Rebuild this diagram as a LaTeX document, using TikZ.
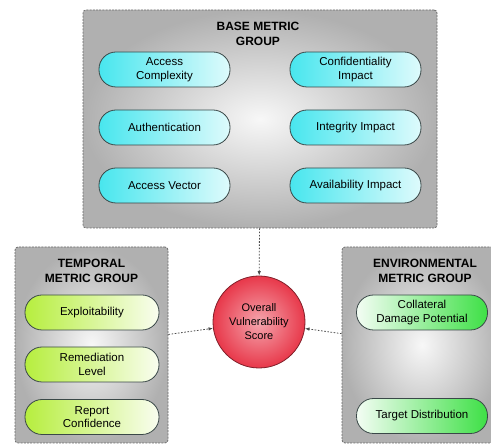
\documentclass[tikz,border=0pt]{standalone}
\usepackage{fontspec}
\setmainfont{Liberation Sans}
\usepackage{xcolor}
\usetikzlibrary{arrows.meta,positioning}

\definecolor{boxedge}{HTML}{6A6A6A}
\definecolor{pilledge}{HTML}{3A4848}
\definecolor{cyanpill}{HTML}{48E6EE}
\definecolor{limepill}{HTML}{B6EE3E}
\definecolor{greenpill}{HTML}{3EE046}
\definecolor{scorered}{HTML}{E8384A}

\begin{document}
\begin{tikzpicture}[x=1pt,y=-1pt,
      group/.style={draw=boxedge,line width=0.8pt,dash pattern=on 2pt off 1.2pt,rounded corners=3pt,
            inner color=white!94!gray,outer color=gray!62},
      title/.style={align=center,font=\bfseries\fontsize{12}{14.5}\selectfont},
      pill/.style={draw=pilledge,line width=0.8pt,rounded corners=17pt,align=center,
            minimum width=131pt,minimum height=35pt,inner sep=1pt,font=\fontsize{11.5}{13.5}\selectfont},
      basepill/.style={pill,left color=cyanpill,right color=cyanpill!18!white},
      temppill/.style={pill,left color=limepill,right color=limepill!8!white,minimum width=134pt},
      envpill/.style={pill,left color=greenpill!6!white,right color=greenpill},
      link/.style={-{Latex[length=4.5pt,width=3.5pt]},gray!60!black,line width=0.8pt,dash pattern=on 1.6pt off 1.6pt}
]
\useasboundingbox (0,0) rectangle (491,446);
\clip (0,0) rectangle (491,446);
% group boxes
\node[group,minimum width=354pt,minimum height=218pt] (base) at (260,119) {};
\node[group,minimum width=153pt,minimum height=196pt] (temporal) at (91.5,345) {};
\node[group,minimum width=160pt,minimum height=196pt] (env) at (422,345) {};

\node[title] (basetitle) at (258,34) {BASE METRIC\\GROUP};
\node[title] (temptitle) at (91.5,271) {TEMPORAL\\METRIC GROUP};
\node[title] (envtitle) at (425,271) {ENVIRONMENTAL\\METRIC GROUP};

% base metrics
\node[basepill] (ac) at (164.5,69.5) {Access\\Complexity};
\node[basepill] (au) at (164.5,127.5) {Authentication};
\node[basepill] (av) at (164.5,185.5) {Access Vector};
\node[basepill] (ci) at (355.5,69.5) {Confidentiality\\Impact};
\node[basepill] (ii) at (355.5,127.5) {Integrity Impact};
\node[basepill] (ai) at (355.5,185.5) {Availability Impact};

% temporal metrics
\node[temppill] (ex) at (92,312.5) {Exploitability};
\node[temppill] (rl) at (92,364.5) {Remediation\\Level};
\node[temppill] (rc) at (92,417) {Report\\Confidence};

% environmental metrics
\node[envpill] (cdp) at (422,312.5) {Collateral\\Damage Potential};
\node[envpill] (td) at (422,416) {Target Distribution};

\node[circle,draw=scorered!55!black,line width=0.8pt,minimum size=92pt,inner sep=0pt,align=center,
      inner color=scorered!45!white,outer color=scorered,font=\fontsize{11}{14}\selectfont] (score) at (259,322) {Overall\\Vulnerability\\Score};

\foreach \grp in {base,temporal,env} {
      \draw[link] (\grp) -- (score);
}
\end{tikzpicture}
\end{document}
